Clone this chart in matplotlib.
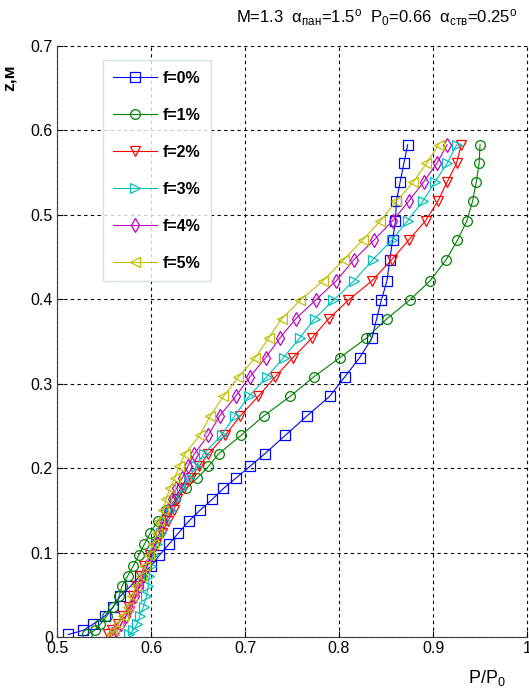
import matplotlib
matplotlib.use('Agg')
import matplotlib.pyplot as plt
from matplotlib.ticker import FormatStrFormatter

plt.rcParams['font.family'] = ['Liberation Sans', 'DejaVu Sans']
plt.rcParams['mathtext.fontset'] = 'custom'
plt.rcParams['mathtext.rm'] = 'Liberation Sans'
plt.rcParams['mathtext.it'] = 'Liberation Sans'
plt.rcParams['mathtext.bf'] = 'Liberation Sans:bold'

# height z, m (shared by all series)
z = [0.583, 0.561, 0.539, 0.516, 0.493, 0.470, 0.447, 0.422, 0.399, 0.377,
     0.354, 0.331, 0.308, 0.285, 0.262, 0.239, 0.217, 0.202, 0.188, 0.176,
     0.163, 0.150, 0.137, 0.123, 0.110, 0.097, 0.084, 0.072, 0.060, 0.048,
     0.036, 0.025, 0.015, 0.008, 0.003]

# P/P0 for each f
p_f0 = [0.873, 0.869, 0.865, 0.861, 0.860, 0.857, 0.854, 0.851, 0.845, 0.840,
        0.835, 0.822, 0.806, 0.790, 0.766, 0.743, 0.721, 0.705, 0.690, 0.677,
        0.665, 0.652, 0.640, 0.629, 0.619, 0.609, 0.600, 0.588, 0.578, 0.567,
        0.560, 0.551, 0.538, 0.528, 0.512]
p_f1 = [0.950, 0.949, 0.946, 0.942, 0.936, 0.926, 0.914, 0.897, 0.875, 0.851,
        0.829, 0.801, 0.773, 0.748, 0.720, 0.696, 0.672, 0.661, 0.649, 0.637,
        0.626, 0.616, 0.607, 0.599, 0.593, 0.587, 0.581, 0.575, 0.569, 0.566,
        0.560, 0.553, 0.546, 0.540, 0.532]
p_f2 = [0.930, 0.925, 0.915, 0.905, 0.892, 0.874, 0.856, 0.835, 0.810, 0.789,
        0.771, 0.751, 0.732, 0.714, 0.695, 0.679, 0.661, 0.651, 0.642, 0.635,
        0.628, 0.624, 0.618, 0.612, 0.605, 0.599, 0.593, 0.589, 0.585, 0.581,
        0.577, 0.570, 0.565, 0.559, 0.554]
p_f3 = [0.925, 0.915, 0.902, 0.889, 0.873, 0.856, 0.836, 0.816, 0.794, 0.774,
        0.758, 0.741, 0.723, 0.704, 0.689, 0.675, 0.656, 0.648, 0.640, 0.633,
        0.627, 0.621, 0.616, 0.611, 0.606, 0.602, 0.600, 0.598, 0.597, 0.595,
        0.592, 0.588, 0.585, 0.581, 0.577]
p_f4 = [0.915, 0.904, 0.890, 0.874, 0.857, 0.837, 0.816, 0.797, 0.775, 0.754,
        0.737, 0.722, 0.705, 0.690, 0.673, 0.661, 0.646, 0.639, 0.633, 0.627,
        0.622, 0.618, 0.613, 0.609, 0.604, 0.600, 0.596, 0.591, 0.587, 0.583,
        0.578, 0.573, 0.568, 0.563, 0.559]
p_f5 = [0.906, 0.893, 0.879, 0.861, 0.844, 0.825, 0.805, 0.783, 0.759, 0.739,
        0.725, 0.711, 0.693, 0.677, 0.663, 0.652, 0.636, 0.630, 0.625, 0.620,
        0.616, 0.613, 0.609, 0.606, 0.602, 0.598, 0.594, 0.589, 0.584, 0.580,
        0.575, 0.570, 0.565, 0.561, 0.558]

series = [p_f0, p_f1, p_f2, p_f3, p_f4, p_f5]
labels = ['f=0%', 'f=1%', 'f=2%', 'f=3%', 'f=4%', 'f=5%']
colors = [(0, 0, 1), (0, 0.5, 0), (1, 0, 0), (0, 0.75, 0.75), (0.75, 0, 0.75), (0.75, 0.75, 0)]
markers = ['s', 'o', 'v', '>', 'd', '<']

fig = plt.figure(figsize=(5.29, 6.88), dpi=100)
ax = fig.add_axes([0.1078, 0.0741, 0.8885, 0.859])

for p, lab, c, m in zip(series, labels, colors, markers):
    ax.plot(p, z, color=c, marker=m, markersize=7, markerfacecolor='none',
            markeredgecolor=c, markeredgewidth=0.9, linewidth=0.8, label=lab)

ax.set_xlim(0.5, 1.0)
ax.set_ylim(0, 0.7)
ax.set_xticks([0.5, 0.6, 0.7, 0.8, 0.9, 1.0])
ax.set_yticks([0, 0.1, 0.2, 0.3, 0.4, 0.5, 0.6, 0.7])
ax.xaxis.set_major_formatter(FormatStrFormatter('%g'))
ax.yaxis.set_major_formatter(FormatStrFormatter('%g'))
ax.tick_params(direction='in', length=4, labelsize=11.5, colors='black', pad=3)
ax.grid(True, color='black', linestyle=(0, (3, 3)), linewidth=0.8)
for t in ax.get_xgridlines() + ax.get_ygridlines():
    t.set_clip_on(False)
ax.spines['top'].set_visible(False)
ax.spines['right'].set_visible(False)
ax.spines['left'].set_color('#404040')
ax.spines['bottom'].set_color('#404040')

ax.set_xlabel('P/P$_0$', fontsize=13)
ax.xaxis.set_label_coords(0.915, -0.052)
ax.set_ylabel('z,м', fontsize=12.5, fontweight='bold')
ax.yaxis.set_label_coords(-0.085, 0.947)

leg = ax.legend(loc='upper left', bbox_to_anchor=(0.098, 0.976), borderaxespad=0,
                handlelength=2.7, labelspacing=1.38, handletextpad=0.4,
                borderpad=0.65, fancybox=False, prop={'size': 11.5, 'weight': 'bold'})
leg.get_frame().set_edgecolor('#c8dcd8')
leg.get_frame().set_linewidth(1.0)

fig.text(0.712, 0.975, r'M=1.3  $\alpha_{пан}$=1.5$^{o}$  P$_0$=0.66  $\alpha_{ств}$=0.25$^{o}$',
         ha='center', va='center', fontsize=12)

fig.savefig('out.png', dpi=100)
